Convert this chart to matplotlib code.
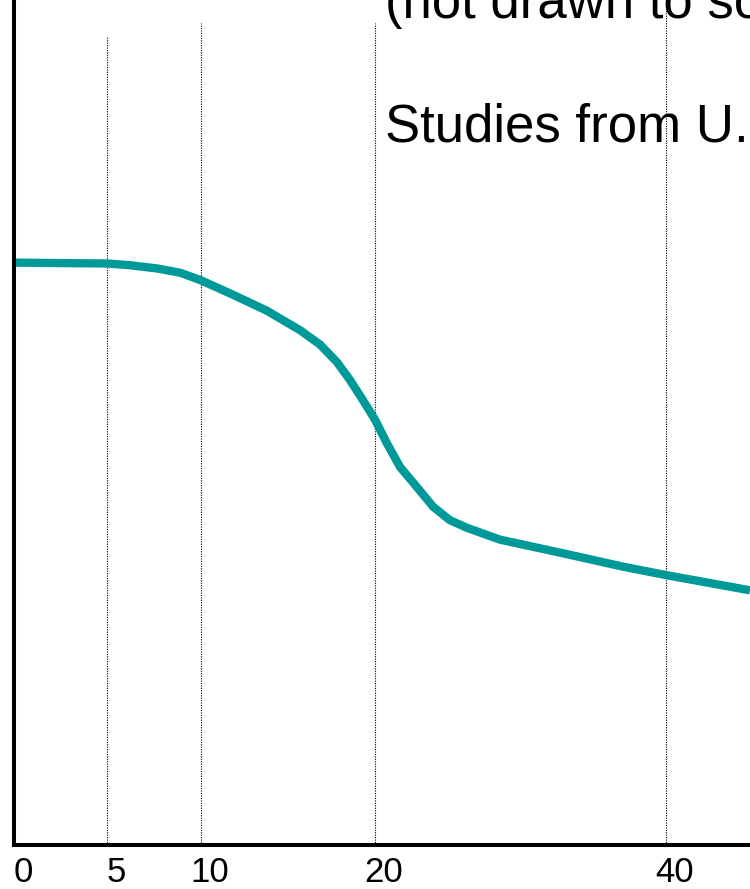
import numpy as np
import matplotlib.pyplot as plt
from matplotlib.transforms import ScaledTranslation

plt.rcParams['font.family'] = ['Liberation Sans', 'DejaVu Sans']

# age axis is "not drawn to scale": anchor ages -> horizontal position
scale_ages = np.array([0, 5, 10, 20, 40, 50])
scale_pos = np.array([0, 93, 187, 361, 652, 797.5])

tick_ages = [0, 5, 10, 20, 40]
tick_labels = ['0', '5', '10', '20', '40']
grid_ages = [5, 10, 20, 40]
grid_tops = [95.7, 97.3, 97.3, 100]

# curve
ages = np.array([0, 5, 6.2, 7.7, 8.9, 10, 11.84, 13.79, 15.69, 16.84, 17.82, 18.56,
                 19.31, 20, 20.82, 21.72, 22.89, 23.99, 25.15, 26.32, 28.59, 31.0,
                 33.4, 37.04, 40, 45.77])
values = np.array([68.9, 68.8, 68.6, 68.2, 67.7, 66.8, 65.1, 63.2, 60.9, 59.2, 57.1, 55.0,
                   52.6, 50.3, 47.5, 44.7, 42.3, 40.0, 38.4, 37.5, 36.1, 35.2,
                   34.3, 32.9, 31.9, 30.1])


def fwd(a):
    return np.interp(a, scale_ages, scale_pos)


def inv(p):
    return np.interp(p, scale_pos, scale_ages)


fig = plt.figure(figsize=(7.5, 8.89), dpi=100)
ax = fig.add_axes([14 / 750, 44.5 / 889, 1 - 14 / 750, 1 - 44.5 / 889])
ax.set_xscale('function', functions=(fwd, inv))
ax.set_xlim(0, 45.77)
ax.set_ylim(0, 100)

ax.vlines(grid_ages, 0, grid_tops, colors='black', linestyles=(0, (1, 1.2)), linewidth=0.8)
ax.plot(ages, values, color='#009999', linewidth=6, solid_capstyle='butt', solid_joinstyle='round')

for s in ['top', 'right']:
    ax.spines[s].set_visible(False)
for s in ['left', 'bottom']:
    ax.spines[s].set_linewidth(2.9)

ax.set_xticks(tick_ages)
ax.set_xticklabels(tick_labels, fontsize=25)
ax.tick_params(axis='x', length=0, pad=8)
ax.set_yticks([])
shift = ScaledTranslation(9 / 100, 0, fig.dpi_scale_trans)
for lab in ax.get_xticklabels():
    lab.set_transform(lab.get_transform() + shift)

fig.text(385 / 750, 1 - 18 / 889, '(not drawn to scale)', fontsize=38, va='baseline')
fig.text(385 / 750, 1 - 141 / 889, 'Studies from U.S.', fontsize=38, va='baseline')

fig.savefig('out.png', dpi=100)
